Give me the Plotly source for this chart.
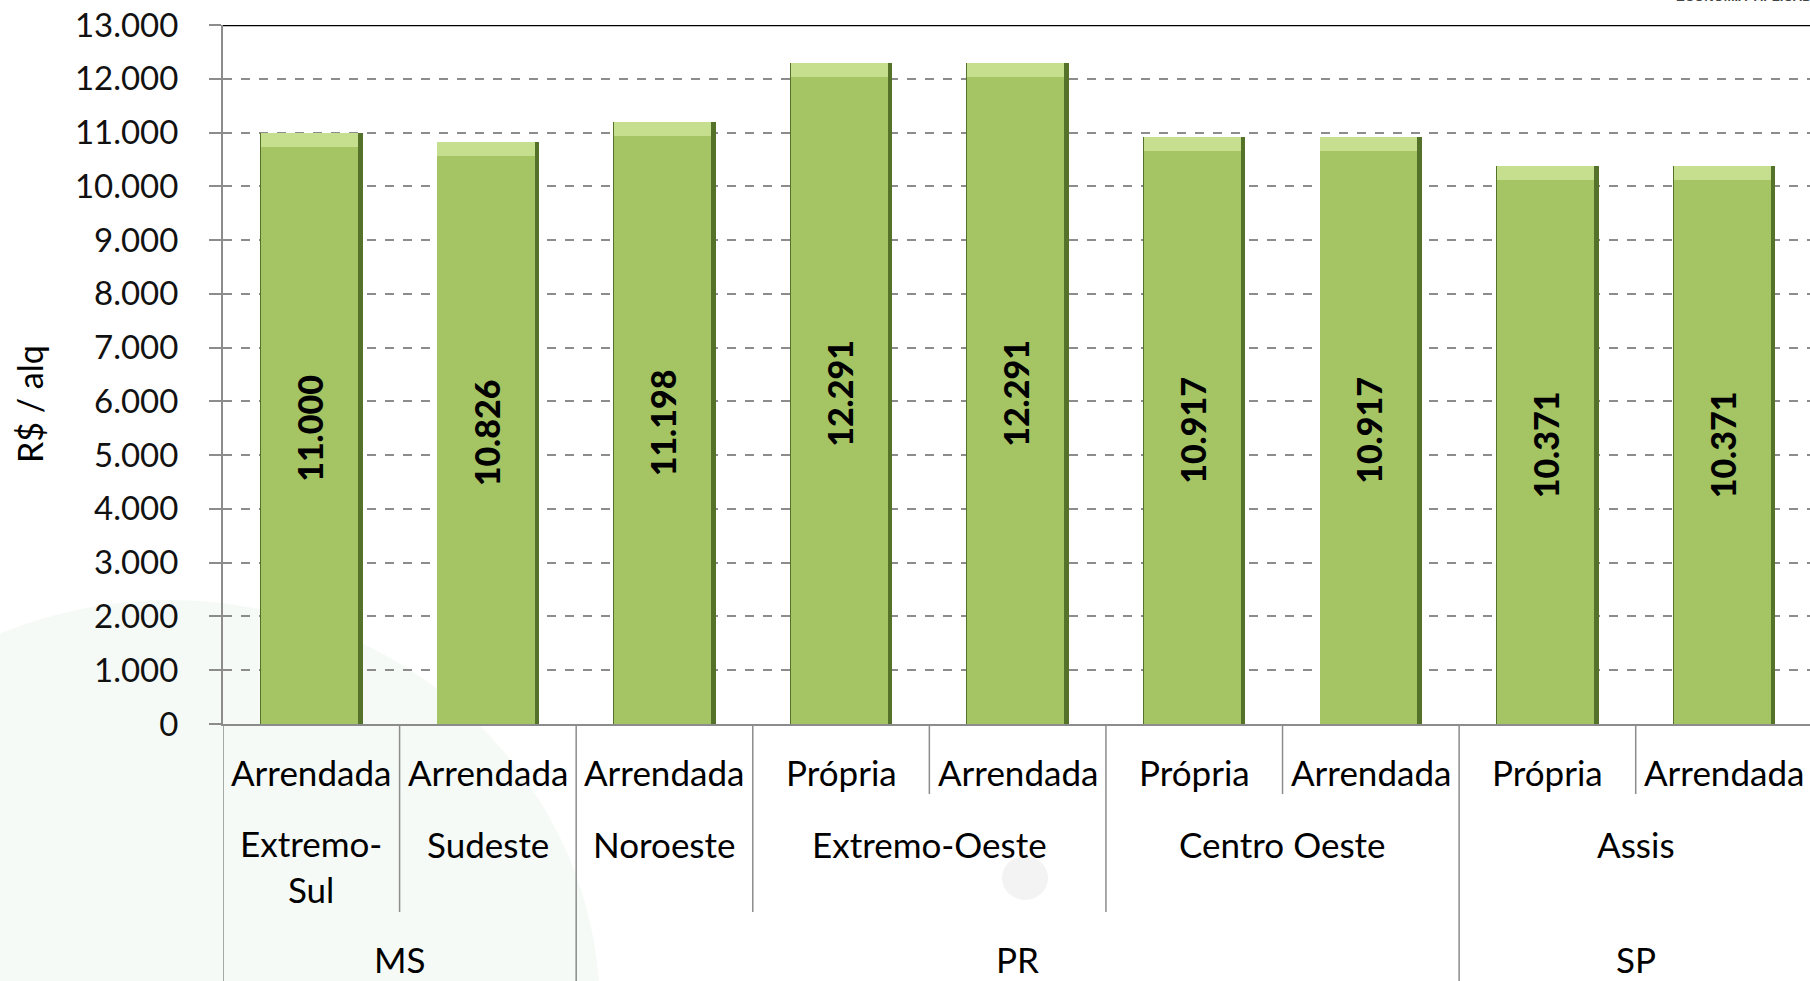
import plotly.graph_objects as go

# ---- data ----
tipo = ["Arrendada", "Arrendada", "Arrendada", "Própria", "Arrendada",
        "Própria", "Arrendada", "Própria", "Arrendada"]
regiao = ["Extremo-<br>Sul", "Sudeste", "Noroeste", "Extremo-Oeste", "Extremo-Oeste",
          "Centro Oeste", "Centro Oeste", "Assis", "Assis"]
estado = ["MS", "MS", "PR", "PR", "PR", "PR", "PR", "SP", "SP"]
valores = [11000, 10826, 11198, 12291, 12291, 10917, 10917, 10371, 10371]
yticks = [0, 1000, 2000, 3000, 4000, 5000, 6000, 7000, 8000, 9000, 10000, 11000, 12000, 13000]

# ---- layout geometry (pixels) ----
W, H = 1810, 981
L, R, T, B = 223, 0, 25, 257
pw, ph = W - L - R, H - T - B


def px_x(px):
    return (px - L) / pw


def px_y(py):
    return (H - B - py) / ph


FONT = "Lato"
x = list(range(len(valores)))

fig = go.Figure()
# dark shadow body
fig.add_trace(go.Bar(x=x, y=valores, width=0.58, offset=-0.29,
                     marker=dict(color="#55722A", line=dict(width=0)),
                     hoverinfo="skip", showlegend=False))
# main body
fig.add_trace(go.Bar(x=x, y=valores, width=0.55, offset=-0.286,
                     marker=dict(color="#A5C463", line=dict(width=0)),
                     texttemplate="%{y:,}", textposition="inside",
                     insidetextanchor="middle", textangle=-90,
                     textfont=dict(family=FONT, size=34, color="black", weight=900),
                     showlegend=False))
# top bevel highlight
fig.add_trace(go.Bar(x=x, y=[260] * len(valores), base=[v - 260 for v in valores],
                     width=0.55, offset=-0.286,
                     marker=dict(color="#C6DF8E", line=dict(width=0)),
                     hoverinfo="skip", showlegend=False))

shapes = []
annotations = []

# faint watermark in background
shapes.append(dict(type="circle", xref="paper", yref="paper", layer="below",
                   x0=px_x(-260), x1=px_x(600), y0=px_y(1420), y1=px_y(600),
                   fillcolor="rgba(110,165,125,0.06)", line=dict(width=0)))
shapes.append(dict(type="circle", xref="paper", yref="paper", layer="below",
                   x0=px_x(1002), x1=px_x(1048), y0=px_y(900), y1=px_y(856),
                   fillcolor="rgba(160,160,160,0.12)", line=dict(width=0)))

# top border line
shapes.append(dict(type="line", xref="paper", yref="y", x0=0, x1=1,
                   y0=yticks[-1], y1=yticks[-1], line=dict(color="black", width=2.5)))

# hierarchical category axis
y_lvl1_end = px_y(794)
y_lvl2_end = px_y(912)
y_bottom = px_y(H + 5)
sep_color = "#8c8c8c"

for i in range(len(valores) + 1):
    if i == 0 or i == len(valores) or estado[i] != estado[i - 1]:
        yend = y_bottom
    elif regiao[i] != regiao[i - 1]:
        yend = y_lvl2_end
    else:
        yend = y_lvl1_end
    shapes.append(dict(type="line", xref="x", yref="paper", x0=i - 0.5, x1=i - 0.5,
                       y0=0, y1=yend, line=dict(color=sep_color, width=1.5)))

lab_font = dict(family=FONT, size=35, color="black")
for i, t in enumerate(tipo):
    annotations.append(dict(x=i, y=px_y(772), xref="x", yref="paper", text=t,
                            showarrow=False, font=lab_font, yanchor="middle"))


def groups(labels):
    out = []
    start = 0
    for i in range(1, len(labels) + 1):
        if i == len(labels) or labels[i] != labels[start]:
            out.append((labels[start], start, i - 1))
            start = i
    return out


for lab, s, e in groups(regiao):
    yy = px_y(866) if "<br>" in lab else px_y(844)
    annotations.append(dict(x=(s + e) / 2, y=yy, xref="x", yref="paper", text=lab,
                            showarrow=False, font=lab_font, yanchor="middle"))
for lab, s, e in groups(estado):
    annotations.append(dict(x=(s + e) / 2, y=px_y(959), xref="x", yref="paper", text=lab,
                            showarrow=False, font=lab_font, yanchor="middle"))

# y axis title
annotations.append(dict(x=px_x(29), y=px_y(404), xref="paper", yref="paper",
                        xanchor="center", yanchor="middle",
                        text="R$ / alq", textangle=-90, showarrow=False,
                        font=dict(family=FONT, size=34, color="black")))
# cut-off logo text top right
annotations.append(dict(x=px_x(1674), y=px_y(6), xref="paper", yref="paper",
                        text="ECONOMIA  APLICADA -", showarrow=False, xanchor="left",
                        yanchor="bottom", font=dict(family="Liberation Sans", size=13,
                                                    color="#444", weight="bold")))

fig.update_layout(
    width=W, height=H,
    margin=dict(l=L, r=R, t=T, b=B, pad=0, autoexpand=False),
    paper_bgcolor="white", plot_bgcolor="rgba(0,0,0,0)",
    barmode="overlay", bargap=0,
    separators=",.",
    shapes=shapes, annotations=annotations,
    xaxis=dict(range=[-0.5, 8.487], showticklabels=False, showgrid=False,
               zeroline=False, showline=True, linecolor=sep_color, linewidth=2,
               ticks="", fixedrange=True),
    yaxis=dict(range=[0, yticks[-1]], tickvals=yticks, tickformat=",",
               showgrid=True, gridcolor="#8c8c8c", griddash="dash", gridwidth=1.5,
               showline=True, linecolor=sep_color, linewidth=2, zeroline=False,
               ticks="outside", ticklen=12, tickcolor=sep_color, tickwidth=2,
               tickfont=dict(family=FONT, size=33, color="#111"),
               ticklabelstandoff=24),
    font=dict(family=FONT),
)

fig.write_html("out.html", config={"displayModeBar": False},
               post_script="document.body.style.margin='0';document.body.style.padding='0';"
                           "document.body.style.overflow='hidden';")
